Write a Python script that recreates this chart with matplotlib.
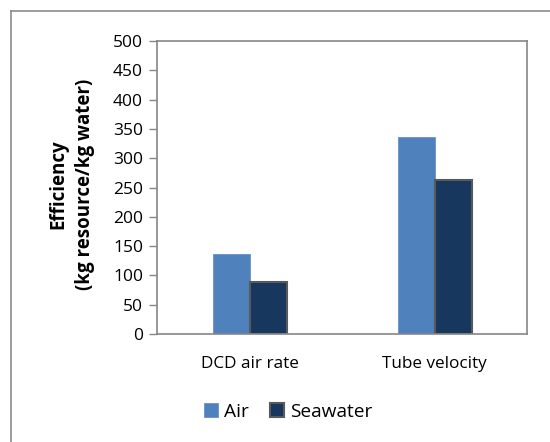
import numpy as np
import matplotlib.pyplot as plt
from matplotlib.lines import Line2D

plt.rcParams['font.family'] = ['Open Sans', 'DejaVu Sans']

# données
categories = ['DCD air rate', 'Tube velocity']
air = [136, 336]
seawater = [89, 262]
yticks = [0, 50, 100, 150, 200, 250, 300, 350, 400, 450, 500]

fig = plt.figure(figsize=(5.5, 4.42), dpi=100)
W, H = 550, 442
ax = fig.add_axes([157/W, 1 - 334/H, 370/W, 293/H])

x = np.arange(len(categories))
w = 0.2
ax.bar(x - w/2, air, w, color='#4F81BD', edgecolor='#6A92C8', linewidth=0.6, label='Air')
ax.bar(x + w/2, seawater, w, color='#17375E', edgecolor='#595959', linewidth=1.5, label='Seawater')

ax.set_xlim(-0.5, 1.5)
ax.set_ylim(0, 500)
ax.set_yticks(yticks)
ax.set_xticks(x)
ax.set_xticklabels(categories, fontsize=12.3)
ax.tick_params(axis='x', length=0, pad=16)
ax.tick_params(axis='y', length=6, width=1, color='#868686', labelsize=12.5, pad=4)
for s in ax.spines.values():
    s.set_color('#868686')
    s.set_linewidth(1.2)

# titre de l'axe y
fig.text(72/W, 1 - 184/H, 'Efficiency\n(kg resource/kg water)', fontsize=13.5,
         fontweight='bold', rotation=90, ha='center', va='center',
         multialignment='center', linespacing=1.45)

fig.legend(loc='center', bbox_to_anchor=(288/W, 1 - 412/H), ncol=2, frameon=False,
           fontsize=13.8, handlelength=0.75, handleheight=0.75, handletextpad=0.3,
           columnspacing=1.1)

# cadre extérieur
fig.add_artist(Line2D([11/W, 11/W], [0, 1 - 11/H], transform=fig.transFigure,
                      color='#8C8C8C', linewidth=1.2))
fig.add_artist(Line2D([11/W, 1], [1 - 11/H, 1 - 11/H], transform=fig.transFigure,
                      color='#8C8C8C', linewidth=1.2))

plt.savefig('out.png', dpi=100)
